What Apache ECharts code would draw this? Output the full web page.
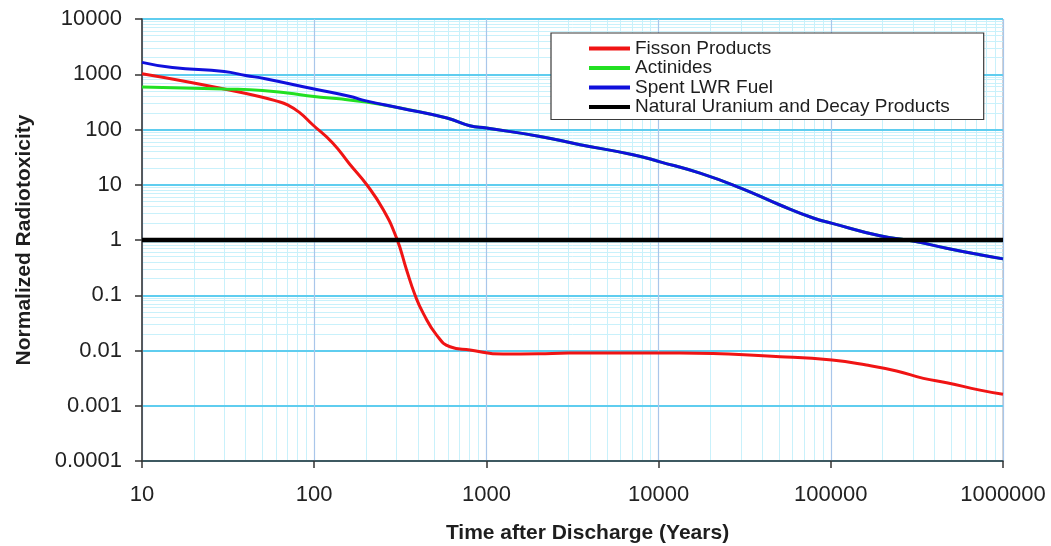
<!DOCTYPE html>
<html>
<head>
<meta charset="utf-8">
<script src="https://cdn.jsdelivr.net/npm/echarts@6/dist/echarts.min.js"></script>
<style>
html,body{margin:0;padding:0;background:#fff;}
#chart{width:1051px;height:546px;}
</style>
</head>
<body>
<div id="chart"></div>
<script>
// ---- Data ----
const fissionYears  = [10, 17, 30, 48, 60, 70, 83, 98, 128, 160, 202, 252, 301, 344, 385, 430, 514, 615, 803, 1250, 2000, 3000, 13300, 50700, 101600, 161000, 241000, 345000, 471000, 735000, 1000000];
const fissionValues = [1020, 762, 540, 396, 330, 280, 198, 122, 57, 24, 10, 3.52, 1.08, 0.287, 0.101, 0.047, 0.019, 0.0117, 0.0102, 0.0086, 0.0087, 0.0090, 0.0090, 0.0077, 0.0067, 0.00546, 0.00426, 0.00313, 0.00261, 0.00192, 0.00161];

const actinideYears  = [10, 30, 50, 70, 100, 140, 200, 315, 590, 800, 1000, 2050, 3500, 7100, 10200, 17400, 30000, 50700, 79000, 102000, 193000, 300000, 470000, 735000, 1000000];
const actinideValues = [590, 540, 510, 457, 396, 360, 313, 245, 161, 117, 106, 75, 53, 35, 26, 16.2, 8.7, 4.3, 2.5, 2.0, 1.19, 0.96, 0.71, 0.54, 0.455];

const spentYears  = [10, 15, 30, 40, 52, 100, 160, 200, 315, 590, 800, 1000, 2050, 3500, 7100, 10200, 17400, 30000, 50700, 79000, 102000, 193000, 300000, 470000, 735000, 1000000];
const spentValues = [1640, 1320, 1120, 950, 830, 540, 400, 330, 245, 161, 117, 106, 75, 53, 35, 26, 16.2, 8.7, 4.3, 2.5, 2.0, 1.19, 0.96, 0.71, 0.54, 0.455];

const uraniumYears  = [10, 1000000];
const uraniumValues = [1, 1];

const seriesNames = ['Fisson Products', 'Actinides', 'Spent LWR Fuel', 'Natural Uranium and Decay Products'];

const xDecades = [10, 100, 1000, 10000, 100000];          // decades with minor gridlines
const yDecades = [0.0001, 0.001, 0.01, 0.1, 1, 10, 100, 1000];
const minorSteps = [2, 3, 4, 5, 6, 7, 8, 9];

// ---- build ----
const pairs = (xs, ys) => xs.map((x, i) => [x, ys[i]]);
const minorX = [];
xDecades.forEach(d => minorSteps.forEach(m => minorX.push({ xAxis: Number((d * m).toPrecision(3)) })));
const minorY = [];
yDecades.forEach(d => minorSteps.forEach(m => minorY.push({ yAxis: Number((d * m).toPrecision(3)) })));

const fmt = v => String(Number(Number(v).toPrecision(3)));
const FONT = '"Liberation Sans", Arial, sans-serif';

const chart = echarts.init(document.getElementById('chart'), null, { renderer: 'canvas' });
chart.setOption({
  animation: false,
  backgroundColor: '#ffffff',
  textStyle: { fontFamily: FONT },
  grid: {
    left: 142, right: 48, top: 19, bottom: 85,
    outerBoundsMode: 'none', containLabel: false,
    show: true, borderColor: '#a8a8a8', borderWidth: 1, backgroundColor: '#ffffff'
  },
  legend: {
    data: seriesNames,
    orient: 'vertical',
    left: 551, top: 33,
    z: 20,
    padding: [6, 34, 3, 38],
    itemGap: 0.5,
    itemWidth: 41, itemHeight: 4,
    icon: 'rect',
    backgroundColor: '#ffffff',
    borderColor: '#3a3a3a', borderWidth: 1.2,
    textStyle: { fontSize: 19, lineHeight: 19, color: '#1e1e1e', fontFamily: FONT, padding: [0, 0, 0, 0] },
    itemStyle: { borderWidth: 0 },
    selectedMode: false
  },
  xAxis: {
    type: 'log', logBase: 10, min: 10, max: 1000000, splitNumber: 5,
    z: 1,
    name: 'Time after Discharge (Years)',
    nameLocation: 'middle', nameGap: 62,
    nameTextStyle: { fontSize: 21, fontWeight: 'bold', color: '#1e1e1e', fontFamily: FONT, padding: [0, 0, 0, 30] },
    axisLine: { show: true, lineStyle: { color: '#333333', width: 1.5 } },
    axisTick: { show: true, length: 7, lineStyle: { color: '#333333', width: 1.5 } },
    axisLabel: { fontSize: 22, color: '#222222', margin: 23, fontFamily: FONT, formatter: fmt },
    splitLine: { show: true, lineStyle: { color: '#a9c6ea', width: 1.2 } },
    minorTick: { show: false }, minorSplitLine: { show: false }
  },
  yAxis: {
    type: 'log', logBase: 10, min: 0.0001, max: 10000, splitNumber: 8,
    z: 1,
    name: 'Normalized Radiotoxicity',
    nameLocation: 'middle', nameGap: 107, nameRotate: 90,
    nameTextStyle: { fontSize: 21, fontWeight: 'bold', color: '#1e1e1e', fontFamily: FONT },
    axisLine: { show: true, lineStyle: { color: '#333333', width: 1.5 } },
    axisTick: { show: true, length: 7, lineStyle: { color: '#333333', width: 1.5 } },
    axisLabel: { fontSize: 22, color: '#222222', margin: 20, fontFamily: FONT, formatter: fmt },
    splitLine: { show: true, lineStyle: { color: '#5fcdef', width: 2 } },
    minorTick: { show: false }, minorSplitLine: { show: false }
  },
  series: [
    {
      name: '_grid', type: 'line', data: [], z: 0, silent: true,
      markLine: {
        z: 0,
        silent: true, symbol: ['none', 'none'], animation: false,
        label: { show: false },
        lineStyle: { color: '#c9f1fb', width: 1, type: 'solid' },
        emphasis: { disabled: true },
        data: minorX.concat(minorY)
      }
    },
    {
      name: seriesNames[0], type: 'line', data: pairs(fissionYears, fissionValues),
      showSymbol: false, smooth: 0.5, z: 3,
      lineStyle: { color: '#f01414', width: 3 }, itemStyle: { color: '#f01414' }
    },
    {
      name: seriesNames[1], type: 'line', data: pairs(actinideYears, actinideValues),
      showSymbol: false, smooth: 0.5, z: 4,
      lineStyle: { color: '#22e022', width: 3 }, itemStyle: { color: '#22e022' }
    },
    {
      name: seriesNames[2], type: 'line', data: pairs(spentYears, spentValues),
      showSymbol: false, smooth: 0.5, z: 5,
      lineStyle: { color: '#1010dc', width: 3 }, itemStyle: { color: '#1010dc' }
    },
    {
      name: seriesNames[3], type: 'line', data: pairs(uraniumYears, uraniumValues),
      showSymbol: false, z: 6,
      lineStyle: { color: '#000000', width: 4.5 }, itemStyle: { color: '#000000' }
    }
  ]
});
</script>
</body>
</html>
